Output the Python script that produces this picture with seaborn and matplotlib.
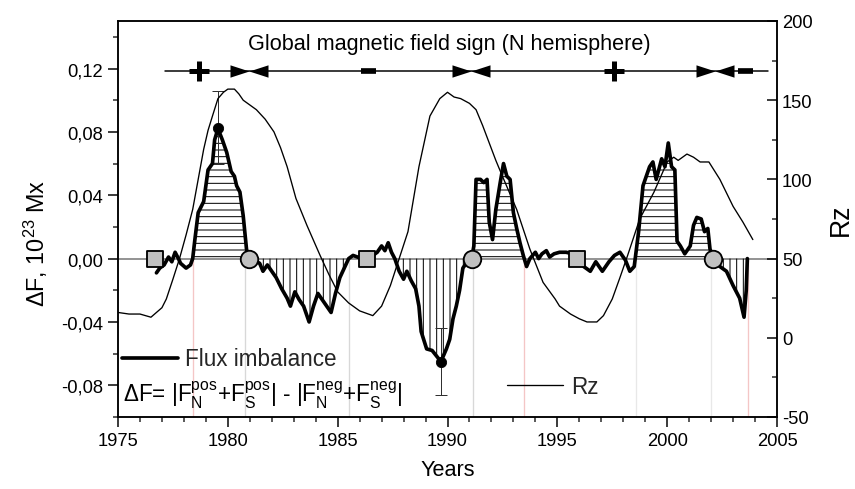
import numpy as np
import matplotlib
matplotlib.use("Agg")
import matplotlib.pyplot as plt
import seaborn as sns
from matplotlib.ticker import MultipleLocator, FuncFormatter

# ---------------- data ----------------
flux_years = [1976.75, 1976.9, 1977.1, 1977.3, 1977.45, 1977.6, 1977.75, 1977.85, 1978.1, 1978.3,
              1978.4, 1978.5, 1978.65, 1978.9, 1979.1, 1979.3, 1979.4, 1979.55, 1979.75, 1979.95,
              1980.15, 1980.3, 1980.4, 1980.55, 1980.7, 1980.85, 1980.95, 1981.2, 1981.45, 1981.6,
              1981.8, 1982.0, 1982.2, 1982.45, 1982.7, 1982.85, 1983.05, 1983.25, 1983.45, 1983.7,
              1983.9, 1984.1, 1984.3, 1984.5, 1984.7, 1984.9, 1985.1, 1985.3, 1985.5, 1985.7,
              1985.9, 1986.1, 1986.6, 1986.8, 1987.0, 1987.15, 1987.3, 1987.45, 1987.6, 1987.8,
              1988.0, 1988.15, 1988.35, 1988.55, 1988.7, 1988.8, 1989.05, 1989.3, 1989.7, 1989.95,
              1990.1, 1990.25, 1990.4, 1990.55, 1990.7, 1990.85, 1990.95, 1991.1, 1991.2, 1991.3,
              1991.5, 1991.65, 1991.8, 1991.9, 1992.05, 1992.2, 1992.4, 1992.55, 1992.7, 1992.85,
              1993.0, 1993.15, 1993.3, 1993.45, 1993.6, 1993.75, 1994.0, 1994.15, 1994.3, 1994.5,
              1994.65, 1994.85, 1995.1, 1995.4, 1995.7, 1996.2, 1996.5, 1996.75, 1997.05, 1997.35,
              1997.6, 1997.85, 1998.1, 1998.3, 1998.5, 1998.7, 1998.9, 1999.2, 1999.35, 1999.5,
              1999.75, 1999.9, 2000.05, 2000.2, 2000.35, 2000.45, 2000.6, 2000.8, 2001.05, 2001.2,
              2001.35, 2001.55, 2001.7, 2001.85, 2001.95, 2002.1, 2002.4, 2002.7, 2003.0, 2003.3,
              2003.5, 2003.6, 2003.65]
flux_values = [-0.009, -0.006, -0.004, 0.001, -0.002, 0.004, 0.0, -0.003, -0.006, -0.004,
               0.0, 0.012, 0.029, 0.036, 0.056, 0.060, 0.075, 0.082, 0.075, 0.067,
               0.055, 0.052, 0.046, 0.042, 0.027, 0.006, 0.0, -0.001, -0.003, -0.008,
               -0.004, -0.008, -0.012, -0.019, -0.025, -0.030, -0.021, -0.026, -0.030, -0.040,
               -0.030, -0.022, -0.026, -0.030, -0.034, -0.022, -0.012, -0.006, 0.0, 0.002,
               0.001, 0.0, 0.002, 0.004, 0.008, 0.005, 0.010, 0.004, 0.0, -0.008,
               -0.013, -0.008, -0.014, -0.019, -0.030, -0.046, -0.057, -0.058, -0.065, -0.057,
               -0.051, -0.038, -0.030, -0.020, -0.006, -0.003, -0.002, 0.0, 0.008, 0.050,
               0.050, 0.048, 0.050, 0.023, 0.012, 0.031, 0.048, 0.060, 0.052, 0.050,
               0.029, 0.019, 0.010, 0.002, -0.005, 0.0, 0.004, 0.0, 0.003, 0.005,
               0.001, 0.003, 0.004, 0.004, 0.003, -0.005, -0.008, -0.002, -0.008, -0.002,
               0.002, 0.004, -0.001, -0.008, -0.005, 0.017, 0.046, 0.058, 0.061, 0.050,
               0.063, 0.058, 0.073, 0.058, 0.056, 0.011, 0.008, 0.003, 0.008, 0.021,
               0.026, 0.025, 0.017, 0.019, 0.006, 0.001, -0.005, -0.008, -0.017, -0.025,
               -0.037, -0.020, 0.0]

rz_years = [1975.0, 1975.5, 1976.0, 1976.5, 1977.0, 1977.2, 1977.5, 1977.8, 1978.1, 1978.4,
            1978.65, 1978.9, 1979.1, 1979.3, 1979.55, 1979.8, 1980.0, 1980.3, 1980.5, 1980.7,
            1981.0, 1981.3, 1981.7, 1982.1, 1982.4, 1982.7, 1983.1, 1983.6, 1984.2, 1984.6,
            1985.0, 1985.5, 1986.0, 1986.6, 1987.0, 1987.4, 1987.8, 1988.2, 1988.7, 1989.2,
            1989.65, 1990.0, 1990.3, 1990.6, 1991.0, 1991.3, 1991.6, 1991.9, 1992.2, 1992.5,
            1993.15, 1993.75, 1994.35, 1994.9, 1995.1, 1995.6, 1996.0, 1996.35, 1996.8, 1997.1,
            1997.5, 1997.85, 1998.2, 1998.75, 1999.4, 2000.0, 2000.3, 2000.5, 2000.9, 2001.2,
            2001.5, 2001.9, 2002.4, 2003.0, 2003.45, 2003.9]
rz_values = [16, 15, 15, 13, 19, 24.5, 37, 50, 65, 81,
             100, 119, 131, 140, 151, 155, 157, 157, 154, 150,
             147, 144, 138, 130, 120, 108, 88, 71, 52, 40,
             29, 22, 17, 14, 20, 33, 50, 67, 108, 140,
             151, 155, 152, 151, 148, 144, 134, 123, 112, 102,
             81, 56, 35, 24.5, 20, 15, 12, 10, 10, 14,
             24.5, 38, 52, 75, 92, 111, 114, 112, 116, 114,
             111, 111, 100, 83, 73, 62]

square_years = [1976.7, 1986.35, 1995.9]
circle_years = [1980.95, 1991.1, 2002.1]
peak_years = [1979.55, 1989.7]
peak_values = [0.0825, -0.065]
peak_err_low = [0.0225, 0.021]
peak_err_high = [0.0235, 0.021]

hatch_pos_intervals = [(1978.4, 1980.95), (1991.1, 1993.5), (1998.6, 2002.1)]
hatch_neg_intervals = [(1980.95, 1985.5), (1987.6, 1991.1), (2002.1, 2003.65)]
boundary_years = [1978.4, 1980.8, 1985.5, 1991.15, 1993.5, 1998.6, 2002.0, 2003.7]
boundary_colors = ['#f4c6c6', '#d8d8d8', '#d8d8d8', '#d8d8d8', '#f4c6c6', '#e8e8e8', '#e8e8e8', '#f4c6c6']

sign_line_span = [1977.15, 2004.6]
sign_plus_years = [1978.7, 1997.6]
sign_minus_years = [1986.4, 2003.55]
reversal_years = [1980.96, 1991.07, 2002.2]
sign_level = 0.1184
sign_title = "Global magnetic field sign (N hemisphere)"

# ---------------- style ----------------
sns.set_theme(style="ticks")
plt.rcParams["font.family"] = ["Liberation Sans", "DejaVu Sans"]
plt.rcParams["mathtext.fontset"] = "custom"
plt.rcParams["mathtext.rm"] = "Liberation Sans"
plt.rcParams["mathtext.it"] = "Liberation Sans:italic"
plt.rcParams["mathtext.bf"] = "Liberation Sans:bold"
plt.rcParams["axes.unicode_minus"] = False
plt.rcParams["hatch.linewidth"] = 0.6
plt.rcParams["hatch.color"] = "black"
plt.rcParams["axes.linewidth"] = 0.9

DPI = 120
fig = plt.figure(figsize=(855 / DPI, 490 / DPI), dpi=DPI)
fig.subplots_adjust(left=118 / 855, right=777 / 855, bottom=1 - 418 / 490, top=1 - 22 / 490)
ax = fig.add_subplot(111)
ax.set_facecolor("white")

# boundary lines and zero line
ax.vlines(boundary_years, -0.1, 0, colors=boundary_colors, lw=0.8, zorder=1)
ax.axhline(0, color="#808080", lw=1.0, zorder=1)

fy = np.asarray(flux_years)
fv = np.asarray(flux_values)


def seg(a, b):
    inner = fy[(fy > a) & (fy < b)]
    xs = np.concatenate([[a], inner, [b]])
    return xs, np.interp(xs, fy, fv)


for a, b in hatch_pos_intervals:
    xs, ys = seg(a, b)
    ax.fill_between(xs, ys, 0, facecolor="none", edgecolor="black", hatch="---", linewidth=0, zorder=2)
for a, b in hatch_neg_intervals:
    xs, ys = seg(a, b)
    ax.fill_between(xs, ys, 0, facecolor="none", edgecolor="black", hatch="|||", linewidth=0, zorder=2)

# error bars of the extreme points
ax.errorbar(peak_years, peak_values, yerr=[peak_err_low, peak_err_high], fmt="none",
            ecolor="#303030", elinewidth=0.6, capsize=3.5, capthick=0.6, zorder=3)

# flux imbalance curve
sns.lineplot(x=flux_years, y=flux_values, ax=ax, color="black", lw=2.2, estimator=None,
             sort=False, label="Flux imbalance", zorder=4, legend=False)

# markers
sns.scatterplot(x=square_years, y=[0] * len(square_years), ax=ax, marker="s", s=85,
                color="#c0c0c0", edgecolor="black", linewidth=1.1, zorder=5)
sns.scatterplot(x=circle_years, y=[0] * len(circle_years), ax=ax, marker="o", s=110,
                color="#c0c0c0", edgecolor="black", linewidth=1.1, zorder=5)
sns.scatterplot(x=peak_years, y=peak_values, ax=ax, marker="o", s=38, color="black",
                edgecolor="black", linewidth=0.5, zorder=6)

# global magnetic field sign annotation
ax.plot(sign_line_span, [sign_level, sign_level], color="black", lw=0.9, zorder=5)
tri_right = [(0, 0), (-2, 0.65), (-2, -0.65), (0, 0)]
tri_left = [(0, 0), (2, 0.65), (2, -0.65), (0, 0)]
ax.plot(reversal_years, [sign_level] * len(reversal_years), ls="none", marker=tri_right,
        ms=22.8, color="black", mew=0, zorder=6)
ax.plot(reversal_years, [sign_level] * len(reversal_years), ls="none", marker=tri_left,
        ms=22.8, color="black", mew=0, zorder=6)
ax.plot(sign_plus_years, [sign_level] * len(sign_plus_years), ls="none", marker="+",
        ms=12, mew=3.0, color="black", zorder=6)
ax.plot(sign_minus_years, [sign_level] * len(sign_minus_years), ls="none", marker="_",
        ms=9, mew=3.4, color="black", zorder=6)
ax.text(1990.07, 0.1355, sign_title, ha="center", va="center", fontsize=13, color="black")

# axes formatting (left)
ax.set_xlim(1975, 2005)
ax.set_ylim(-0.1, 0.15)
ax.xaxis.set_major_locator(MultipleLocator(5))
ax.xaxis.set_minor_locator(MultipleLocator(1))
ax.yaxis.set_major_locator(MultipleLocator(0.04))
ax.yaxis.set_minor_locator(MultipleLocator(0.02))


def comma_fmt(v, pos):
    if abs(v) < 1e-9:
        v = 0.0
    return f"{v:.2f}".replace(".", ",")


ax.yaxis.set_major_formatter(FuncFormatter(comma_fmt))
ax.tick_params(axis="y", which="major", direction="out", length=6, width=0.9, pad=3,
               labelsize=11, colors="black", left=True, right=False)
ax.tick_params(axis="y", which="minor", direction="out", length=3, width=0.9, left=True, right=False)
ax.tick_params(axis="x", which="major", direction="out", length=6, width=0.9, pad=3,
               labelsize=11, colors="black", top=False, bottom=True)
ax.tick_params(axis="x", which="minor", direction="out", length=3, width=0.9, top=False, bottom=True)
ax.set_xlabel("Years", fontsize=13, color="black", labelpad=6)
ax.set_ylabel("ΔF, 10$^{23}$ Mx", fontsize=14, color="black")
ax.yaxis.set_label_coords(-0.103, 0.442)
for sp in ax.spines.values():
    sp.set_visible(True)
    sp.set_color("black")

# legend for flux and formula
leg1 = ax.legend(loc="center left", bbox_to_anchor=(0.006, 0.1465), frameon=False,
                 fontsize=13.5, handlelength=2.5, handletextpad=0.3, borderpad=0,
                 borderaxespad=0)
for line in leg1.get_lines():
    line.set_linewidth(2.2)
ax.text(0.008, 0.038,
        r"ΔF= |F$_\mathrm{N}^\mathrm{pos}$+F$_\mathrm{S}^\mathrm{pos}$| - |F$_\mathrm{N}^\mathrm{neg}$+F$_\mathrm{S}^\mathrm{neg}$|",
        transform=ax.transAxes, ha="left", va="baseline", fontsize=13.5, color="black", zorder=7)

# right axis: Rz
ax2 = ax.twinx()
sns.lineplot(x=rz_years, y=rz_values, ax=ax2, color="black", lw=0.8, estimator=None,
             sort=False, label="Rz", legend=False)
ax2.set_ylim(-50, 200)
ax2.yaxis.set_major_locator(MultipleLocator(50))
ax2.yaxis.set_minor_locator(MultipleLocator(25))
ax2.tick_params(axis="y", which="major", direction="in", length=6, width=0.9, pad=3,
                labelsize=11, colors="black", right=True, left=False)
ax2.tick_params(axis="y", which="minor", direction="in", length=3, width=0.9, right=True, left=False)
ax2.set_ylabel("Rz", fontsize=16, color="black")
ax2.yaxis.set_label_coords(1.077, 0.5)
for sp in ax2.spines.values():
    sp.set_visible(True)
    sp.set_color("black")
leg2 = ax2.legend(loc="center left", bbox_to_anchor=(0.590, 0.078), frameon=False,
                  fontsize=13.5, handlelength=2.5, handletextpad=0.35, borderpad=0,
                  borderaxespad=0)

fig.savefig("out.png", dpi=DPI)
